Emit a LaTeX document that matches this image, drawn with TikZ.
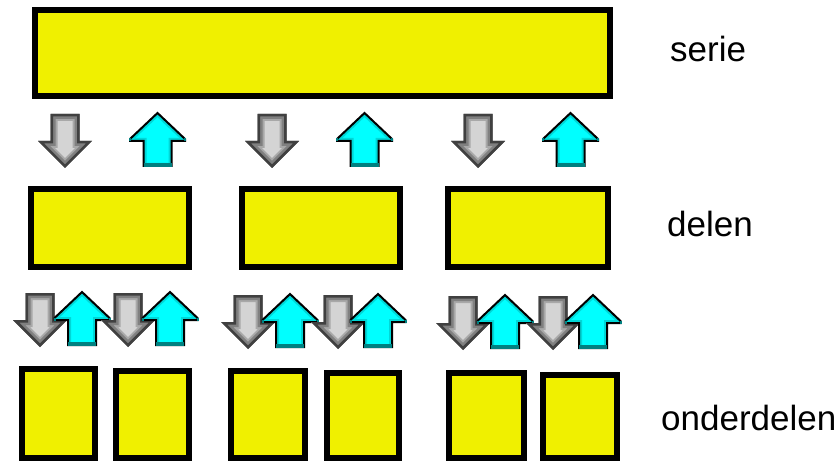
\documentclass[tikz,border=0pt]{standalone}
\usepackage{fontspec}
\setmainfont{Liberation Sans}
\definecolor{boxyellow}{RGB}{240,240,0}
\definecolor{arrowcyan}{RGB}{0,255,255}
\definecolor{arrowteal}{RGB}{0,128,128}
\definecolor{shadecyan}{RGB}{0,215,215}
\definecolor{lightgrey}{RGB}{212,212,212}
\definecolor{midgrey}{RGB}{168,168,168}
\definecolor{deepgrey}{RGB}{128,128,128}
\definecolor{darkgrey}{RGB}{64,64,64}

\newcommand{\greyshape}{(-14.5,0) -- (14.5,0) -- (14.5,27) -- (27,27) -- (0,54) -- (-27,27) -- (-14.5,27) -- cycle}
\newcommand{\cyanshape}{(0,0) -- (27.5,26) -- (27.5,28) -- (14,28) -- (14,53) -- (-14,53) -- (-14,28) -- (-27.5,28) -- (-27.5,26) -- cycle}

\tikzset{
  box/.style = {draw, line width=6pt, fill=boxyellow, inner sep=0pt},
  leveltext/.style = {anchor=base west, inner sep=0pt, font=\fontsize{35}{40}\selectfont},
  pics/downarrow/.style = {code = {
    \fill[lightgrey] \greyshape;
    \begin{scope}
      \clip \greyshape;
      \draw[midgrey, line width=14pt] \greyshape;
      \draw[deepgrey, line width=10pt] \greyshape;
      \draw[darkgrey, line width=5pt] \greyshape;
    \end{scope}
  }},
  pics/uparrow/.style = {code = {
    \fill[arrowcyan] \cyanshape;
    \begin{scope}
      \clip \cyanshape;
      \draw[shadecyan, line width=6pt] \cyanshape;
    \end{scope}
    \draw[black, line width=2pt, line join=miter] \cyanshape;
    \draw[arrowteal, line width=4pt] (-14,52) -- (14,52);
    \draw[arrowteal, line width=2pt] (27.5,25.5) -- (27.5,28.5) (-27.5,25.5) -- (-27.5,28.5);
  }}
}

\begin{document}
\begin{tikzpicture}[x=1pt, y=-1pt]
\useasboundingbox (0,0) rectangle (840,462);

%boxes
\node[box, minimum width=575pt, minimum height=86pt] (serie) at (322.5,53) {};
\foreach \n/\cx/\w in {1/110/158, 2/321/158, 3/528/160}
  {\node[box, minimum width=\w pt, minimum height=78pt] (deel\n) at (\cx,228) {};}
\foreach \n/\cx/\w/\cy/\h in {1/58.5/73/413.5/89, 2/152.5/73/414.5/87, 3/268/74/414.5/87, 4/363/72/415.5/85, 5/486.5/75/415.5/85, 6/580/74/416.5/83}
  {\node[box, minimum width=\w pt, minimum height=\h pt] (onderdeel\n) at (\cx,\cy) {};}

%arrows
\foreach \x in {0,207,413} {\pic at (65+\x,114) {downarrow}; \pic at (157.5+\x,113) {uparrow};}
\foreach \x/\dy/\gx in {0/0/128, 208/2/130, 423/3/130} {
  \pic at (40+\x,293+\dy) {downarrow};
  \pic at (82+\x,292+\dy) {uparrow};
  \pic at (\gx+\x,293+\dy) {downarrow};
  \pic at (170+\x,292+\dy) {uparrow};
}

\node[leveltext] (serietext) at (670,62) {serie};
\node[leveltext] (delentext) at (667,237) {delen};
\node[leveltext] (onderdelentext) at (661,430) {onderdelen};

\end{tikzpicture}
\end{document}
